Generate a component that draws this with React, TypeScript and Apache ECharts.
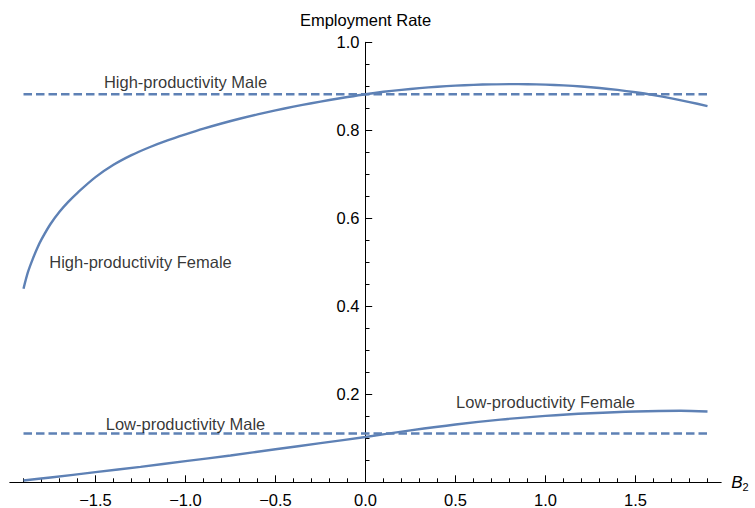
import React, { useEffect, useRef } from "react";
import * as echarts from "echarts";

// B2 sample points and employment rates
const highFemaleB2 = [-1.9, -1.875, -1.85, -1.825, -1.8, -1.75, -1.7, -1.65, -1.6, -1.5, -1.4, -1.3, -1.2, -1.1, -1.0, -0.9, -0.8, -0.7, -0.6, -0.5, -0.4, -0.3, -0.2, -0.1, 0, 0.1, 0.2, 0.3, 0.4, 0.5, 0.6, 0.7, 0.8, 0.9, 1.0, 1.1, 1.2, 1.3, 1.4, 1.5, 1.6, 1.7, 1.8, 1.9];
const highFemaleRate = [0.44, 0.478, 0.506, 0.531, 0.552, 0.587, 0.615, 0.638, 0.658, 0.6935, 0.7215, 0.7435, 0.7615, 0.777, 0.7907, 0.8037, 0.8155, 0.8263, 0.8362, 0.8453, 0.8537, 0.8615, 0.8688, 0.8756, 0.882, 0.8875, 0.892, 0.8958, 0.899, 0.9015, 0.9033, 0.9044, 0.9049, 0.9047, 0.9038, 0.9021, 0.8996, 0.8962, 0.8918, 0.8864, 0.88, 0.8726, 0.8642, 0.855];
const lowFemaleB2 = [-1.9, -1.75, -1.5, -1.25, -1.0, -0.75, -0.5, -0.25, 0, 0.25, 0.5, 0.75, 1.0, 1.25, 1.5, 1.75, 1.9];
const lowFemaleRate = [0.004, 0.011, 0.023, 0.035, 0.048, 0.061, 0.075, 0.089, 0.103, 0.118, 0.1315, 0.1425, 0.151, 0.157, 0.161, 0.1625, 0.1608];
const b2Domain = [-1.9, 1.9];
const highMaleRate = 0.882;
const lowMaleRate = 0.111;
const xTickValues = [-1.5, -1.0, -0.5, 0, 0.5, 1.0, 1.5];
const labelTexts = ["High-productivity Male", "High-productivity Female", "Low-productivity Male", "Low-productivity Female"];
const labelB2 = [-1.0, -1.25, -1.0, 1.0];
const labelRate = [0.91, 0.501, 0.132, 0.183];

const FONT = "'Liberation Sans', Arial, Helvetica, sans-serif";
const BLUE = "#5E81B5";
const INK = "#000000";
const FS = 16.5;

function zip(xs: number[], ys: number[]) {
  return xs.map((x, i) => [x, ys[i]]);
}

export default function App() {
  const ref = useRef<HTMLDivElement>(null);

  useEffect(() => {
    if (!ref.current) return;
    const chart = echarts.init(ref.current, null, { renderer: "svg" });
    const gridTop = 42.3;
    const gridBottom = 25.7;
    const baseGrid = { top: gridTop, bottom: gridBottom, containLabel: false, outerBoundsMode: "none" };
    const option: any = {
      animation: false,
      backgroundColor: "#ffffff",
      textStyle: { fontFamily: FONT },
      grid: [
        { ...baseGrid, left: 5.5, right: 29.5 },
        { ...baseGrid, left: 9.8, right: 33.8 },
        { ...baseGrid, left: 365.5, right: 29.5 },
      ],
      xAxis: [
        {
          gridIndex: 0,
          type: "value",
          min: -2,
          max: 2,
          interval: 0.5,
          position: "bottom",
          axisLine: { show: false, onZero: false },
          axisTick: {
            show: true,
            inside: true,
            length: 7,
            customValues: xTickValues,
            lineStyle: { color: INK, width: 1 },
          },
          minorTick: { show: true, splitNumber: 5, length: 4, lineStyle: { color: INK, width: 1 } },
          axisLabel: {
            customValues: xTickValues,
            margin: 11.5,
            lineHeight: 13,
            fontSize: FS,
            color: INK,
            fontFamily: FONT,
            formatter: (v: number) => v.toFixed(1).replace("-", "\u2212"),
          },
          splitLine: { show: false },
          minorSplitLine: { show: false },
        },
        {
          gridIndex: 1,
          type: "value",
          min: -1.976,
          max: 1.976,
          position: "bottom",
          axisLine: { show: true, onZero: false, lineStyle: { color: INK, width: 1 } },
          axisTick: { show: false },
          axisLabel: { show: false },
          splitLine: { show: false },
          name: "{b|B}{s|2}",
          nameLocation: "end",
          nameGap: 10,
          nameTextStyle: {
            rich: {
              b: { fontSize: 17, fontStyle: "italic", fontFamily: FONT, color: INK },
              s: { fontSize: 11, fontFamily: FONT, color: INK, padding: [9, 0, 0, 0] },
            },
          },
        },
        {
          gridIndex: 2,
          type: "value",
          min: 0,
          max: 2,
          show: false,
        },
      ],
      yAxis: [
        { gridIndex: 0, type: "value", min: 0, max: 1, show: false },
        { gridIndex: 1, type: "value", min: 0, max: 1, show: false },
        {
          gridIndex: 2,
          type: "value",
          min: 0,
          max: 1,
          interval: 0.2,
          position: "left",
          axisLine: { show: true, onZero: false, lineStyle: { color: INK, width: 1 } },
          axisTick: { show: true, inside: true, length: 6.7, lineStyle: { color: INK, width: 1 } },
          minorTick: { show: true, splitNumber: 4, length: 4, lineStyle: { color: INK, width: 1 } },
          axisLabel: {
            margin: 6,
            fontSize: FS,
            color: INK,
            fontFamily: FONT,
            formatter: (v: number) => (v === 0 ? "" : v.toFixed(1)),
          },
          splitLine: { show: false },
          minorSplitLine: { show: false },
          name: "Employment Rate",
          nameLocation: "end",
          nameGap: 14,
          nameTextStyle: { fontSize: FS, color: INK, fontFamily: FONT },
        },
      ],
      series: [
        {
          type: "line",
          xAxisIndex: 0,
          yAxisIndex: 0,
          data: zip(highFemaleB2, highFemaleRate),
          showSymbol: false,
          smooth: 0.3,
          lineStyle: { color: BLUE, width: 2.4 },
          silent: true,
          z: 3,
        },
        {
          type: "line",
          xAxisIndex: 0,
          yAxisIndex: 0,
          data: zip(lowFemaleB2, lowFemaleRate),
          showSymbol: false,
          smooth: 0.3,
          lineStyle: { color: BLUE, width: 2.4 },
          silent: true,
          z: 3,
        },
        {
          type: "line",
          xAxisIndex: 0,
          yAxisIndex: 0,
          data: b2Domain.map((x) => [x, highMaleRate]),
          showSymbol: false,
          lineStyle: { color: BLUE, width: 2.4, type: [8.5, 4] },
          silent: true,
          z: 2,
        },
        {
          type: "line",
          xAxisIndex: 0,
          yAxisIndex: 0,
          data: b2Domain.map((x) => [x, lowMaleRate]),
          showSymbol: false,
          lineStyle: { color: BLUE, width: 2.4, type: [8.5, 4] },
          silent: true,
          z: 2,
        },
        {
          type: "scatter",
          xAxisIndex: 0,
          yAxisIndex: 0,
          symbolSize: 0,
          silent: true,
          data: labelTexts.map((t, i) => ({ name: t, value: [labelB2[i], labelRate[i]] })),
          label: {
            show: true,
            position: "inside",
            formatter: "{b}",
            fontSize: FS,
            color: INK,
            fontFamily: FONT,
          },
          emphasis: { disabled: true },
          z: 4,
        },
      ],
    };
    chart.setOption(option);
    return () => chart.dispose();
  }, []);

  return (
    <div
      ref={ref}
      style={{ position: "absolute", left: 0, top: 0, width: 755, height: 508, background: "#fff" }}
    />
  );
}
